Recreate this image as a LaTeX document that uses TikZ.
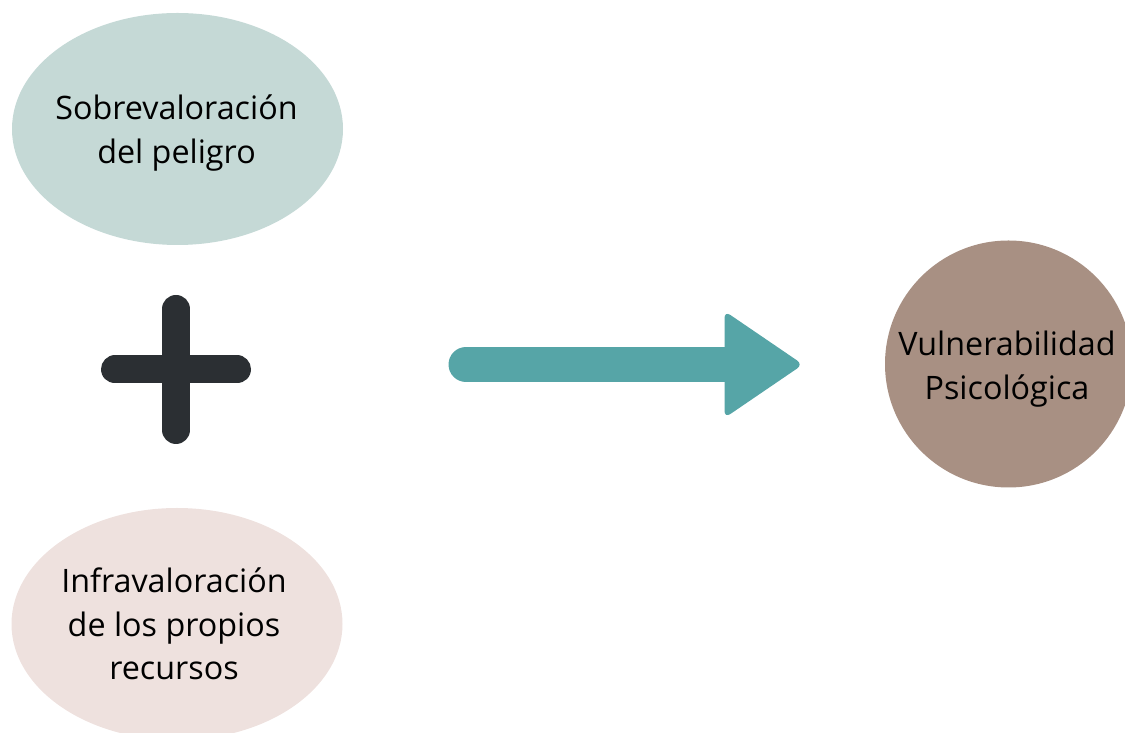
\documentclass[tikz,border=0pt]{standalone}
\usepackage{fontspec}
\setmainfont{Open Sans}
\definecolor{topfill}{HTML}{C5D9D6}
\definecolor{botfill}{HTML}{EEE1DE}
\definecolor{plusdark}{HTML}{2B2F33}
\definecolor{arrowteal}{HTML}{56A5A7}
\definecolor{circfill}{HTML}{A89083}
\tikzset{
  label/.style={inner sep=0pt, align=center, text=black,
    font=\fontsize{32.3pt}{43.5pt}\selectfont},
  plusbar/.style={draw=plusdark, line width=28pt, line cap=round},
  shaftline/.style={draw=arrowteal, line width=35pt, line cap=round},
  headfill/.style={fill=arrowteal, rounded corners=7pt}
}
\begin{document}
\begin{tikzpicture}[x=1pt,y=1pt]
\useasboundingbox (0,0) rectangle (1125,733);
\clip (0,0) rectangle (1125,733);
% shapes
\fill[topfill] (177.5,604) ellipse [x radius=165.5pt, y radius=116pt];
\fill[botfill] (177,109) ellipse [x radius=165.5pt, y radius=116pt];
\fill[circfill] (1008.5,369) circle [radius=123.5pt];
% labels
\node[label] (top) at (176.5,600) {Sobrevaloración\\del peligro};
\node[label] (bot) at (174,109) {Infravaloración\\de los propios\\recursos};
\node[label] (vul) at (1007,364) {Vulnerabilidad\\Psicológica};
% plus sign
\coordinate (pc) at (176,363.5);
\draw[plusbar] ([xshift=-61pt]pc) -- ([xshift=61pt]pc);
\draw[plusbar] ([yshift=-60.5pt]pc) -- ([yshift=60.5pt]pc);
% block arrow
\coordinate (as) at (466,368.5);
\coordinate (ae) at (740,368.5);
\draw[shaftline] (as) -- (ae);
\fill[headfill] (724.5,422) -- (803,368.5) -- (724.5,315) -- cycle;
\end{tikzpicture}
\end{document}
